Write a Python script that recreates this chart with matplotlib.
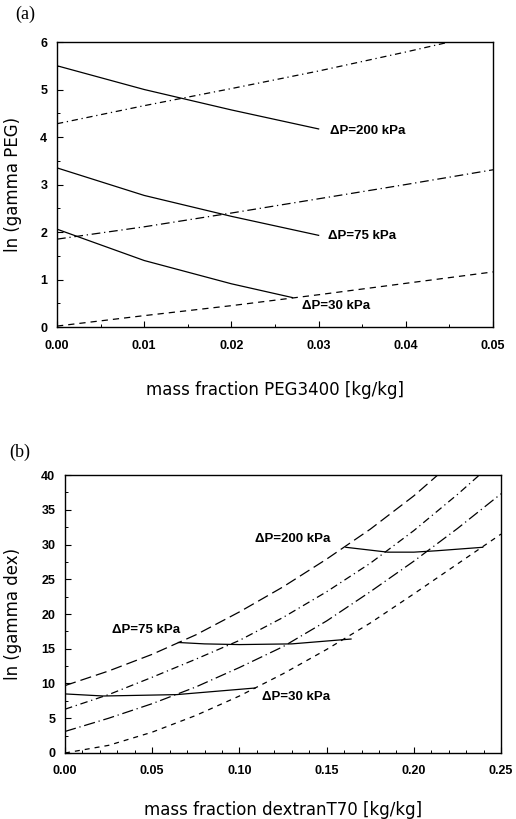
import numpy as np
import matplotlib
matplotlib.use("Agg")
import matplotlib.pyplot as plt
from matplotlib.ticker import MultipleLocator, FormatStrFormatter

plt.rcParams['font.family'] = ['Liberation Sans', 'DejaVu Sans']

# ---- panel (a): ln(gamma PEG) vs mass fraction PEG3400 ----
x_solid_a = [0.0, 0.01, 0.02, 0.03]
peg_200_solid = [5.50, 5.00, 4.57, 4.17]
peg_75_solid = [3.35, 2.77, 2.33, 1.93]
x_solid_30_a = [0.0, 0.01, 0.02, 0.027]
peg_30_solid = [2.06, 1.40, 0.91, 0.62]

x_200_dd = [0.0, 0.01, 0.02, 0.03, 0.04, 0.045]
peg_200_dd = [4.28, 4.66, 5.02, 5.39, 5.79, 6.0]
x_other_a = [0.0, 0.01, 0.02, 0.03, 0.04, 0.05]
peg_75_dd = [1.85, 2.11, 2.40, 2.70, 3.00, 3.31]
peg_30_dash = [0.02, 0.24, 0.45, 0.68, 0.92, 1.16]

# ---- panel (b): ln(gamma dex) vs mass fraction dextranT70 ----
x_b = [0.0, 0.025, 0.05, 0.075, 0.10, 0.125, 0.15, 0.175, 0.20, 0.225, 0.25]
x_curve1 = x_b[:9] + [0.2137]
dex_curve1 = [9.7, 11.8, 14.2, 17.0, 20.3, 23.9, 27.9, 32.2, 37.0, 40.0]
x_curve2 = x_b[:10] + [0.2376]
dex_curve2 = [6.3, 8.4, 10.9, 13.5, 16.2, 19.5, 23.2, 27.3, 32.0, 37.2, 40.0]
dex_curve3 = [3.1, 5.0, 7.1, 9.5, 12.3, 15.3, 19.0, 23.2, 27.6, 32.3, 37.3]
dex_curve4 = [0.0, 1.1, 3.0, 5.4, 8.2, 11.4, 14.9, 18.7, 22.9, 27.2, 31.5]

x_30_b = [0.0, 0.022, 0.064, 0.109]
dex_30_solid = [8.5, 8.2, 8.4, 9.35]
x_75_b = [0.065, 0.08, 0.10, 0.13, 0.164]
dex_75_solid = [15.9, 15.7, 15.6, 15.7, 16.4]
x_200_b = [0.161, 0.185, 0.20, 0.213, 0.2395]
dex_200_solid = [29.6, 28.9, 28.9, 29.1, 29.6]

lw = 0.9
ann_font = dict(fontsize=9.5, fontweight='bold')
label_font = dict(family='DejaVu Sans', fontsize=12)

fig = plt.figure(figsize=(5.16, 8.19), dpi=100)


def style_axes(ax):
    for s in ax.spines.values():
        s.set_linewidth(1.0)
    ax.tick_params(which='both', direction='in', top=False, right=False)
    ax.tick_params(which='major', length=4, width=0.8)
    ax.tick_params(axis='x', which='major', pad=9)
    ax.tick_params(axis='y', which='major', pad=7)
    ax.tick_params(which='minor', length=2.5, width=0.7)
    for lab in ax.get_xticklabels() + ax.get_yticklabels():
        lab.set_fontsize(9)
        lab.set_fontweight('bold')


# panel (a)
ax1 = fig.add_axes([0.1105, 0.6007, 0.845, 0.348])
ax1.plot(x_solid_a, peg_200_solid, color='black', lw=lw)
ax1.plot(x_solid_a, peg_75_solid, color='black', lw=lw)
ax1.plot(x_solid_30_a, peg_30_solid, color='black', lw=lw)
ax1.plot(x_200_dd, peg_200_dd, color='black', lw=lw, dashes=(5, 3, 1, 3))
ax1.plot(x_other_a, peg_75_dd, color='black', lw=lw, dashes=(7, 3, 1, 3))
ax1.plot(x_other_a, peg_30_dash, color='black', lw=lw, dashes=(5, 4))
ax1.set_xlim(0, 0.05)
ax1.set_ylim(0, 6)
ax1.xaxis.set_major_locator(MultipleLocator(0.01))
ax1.xaxis.set_minor_locator(MultipleLocator(0.005))
ax1.yaxis.set_major_locator(MultipleLocator(1))
ax1.yaxis.set_minor_locator(MultipleLocator(0.5))
ax1.xaxis.set_major_formatter(FormatStrFormatter('%.2f'))
ax1.yaxis.set_major_formatter(FormatStrFormatter('%d'))
style_axes(ax1)
ax1.text(0.0313, 4.13, 'ΔP=200 kPa', va='center', ha='left', **ann_font)
ax1.text(0.0311, 1.92, 'ΔP=75 kPa', va='center', ha='left', **ann_font)
ax1.text(0.0281, 0.45, 'ΔP=30 kPa', va='center', ha='left', **ann_font)
ax1.set_xlabel('mass fraction PEG3400 [kg/kg]', **label_font)
ax1.set_ylabel('ln (gamma PEG)', **label_font)
ax1.xaxis.set_label_coords(0.5, -0.19)
ax1.yaxis.set_label_coords(-0.08, 0.5)
fig.text(0.048, 0.982, '(a)', family='Liberation Serif', fontsize=13,
         ha='center', va='center')

# panel (b)
ax2 = fig.add_axes([0.126, 0.0806, 0.845, 0.3394])
ax2.plot(x_curve1, dex_curve1, color='black', lw=lw, dashes=(9, 4))
ax2.plot(x_curve2, dex_curve2, color='black', lw=lw, dashes=(6, 3, 1, 3))
ax2.plot(x_b, dex_curve3, color='black', lw=lw, dashes=(9, 3, 1, 3))
ax2.plot(x_b, dex_curve4, color='black', lw=lw, dashes=(4, 4))
ax2.plot(x_30_b, dex_30_solid, color='black', lw=lw)
ax2.plot(x_75_b, dex_75_solid, color='black', lw=lw)
ax2.plot(x_200_b, dex_200_solid, color='black', lw=lw)
ax2.set_xlim(0, 0.25)
ax2.set_ylim(0, 40)
ax2.xaxis.set_major_locator(MultipleLocator(0.05))
ax2.xaxis.set_minor_locator(MultipleLocator(0.01))
ax2.yaxis.set_major_locator(MultipleLocator(5))
ax2.yaxis.set_minor_locator(MultipleLocator(2.5))
ax2.xaxis.set_major_formatter(FormatStrFormatter('%.2f'))
ax2.yaxis.set_major_formatter(FormatStrFormatter('%d'))
style_axes(ax2)
ax2.text(0.109, 30.8, 'ΔP=200 kPa', va='center', ha='left', **ann_font)
ax2.text(0.027, 17.7, 'ΔP=75 kPa', va='center', ha='left', **ann_font)
ax2.text(0.113, 8.1, 'ΔP=30 kPa', va='center', ha='left', **ann_font)
ax2.set_xlabel('mass fraction dextranT70 [kg/kg]', **label_font)
ax2.set_ylabel('ln (gamma dex)', **label_font)
ax2.xaxis.set_label_coords(0.5, -0.173)
ax2.yaxis.set_label_coords(-0.099, 0.5)
fig.text(0.039, 0.448, '(b)', family='Liberation Serif', fontsize=13,
         ha='center', va='center')

fig.savefig('out.png', dpi=100)
